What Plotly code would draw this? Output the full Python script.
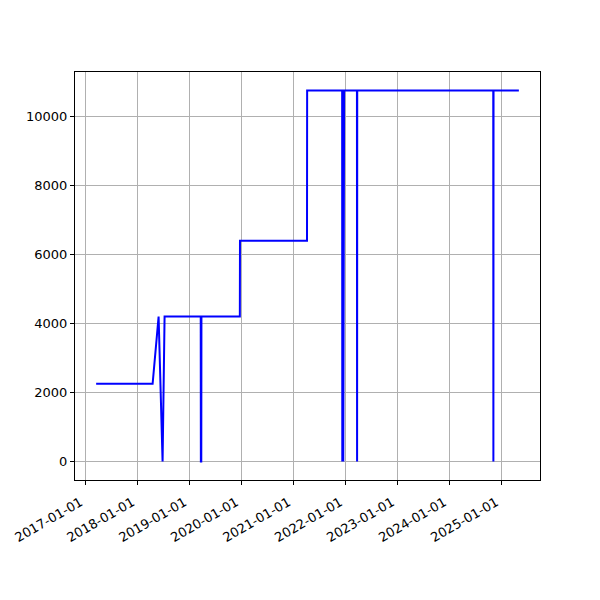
import pandas as pd
import plotly.graph_objects as go

dates = [
    "2017-03-17", "2018-04-18", "2018-05-30", "2018-06-27", "2018-07-11",
    "2019-03-22", "2019-03-23", "2019-03-26", "2019-03-27",
    "2019-12-22", "2019-12-23", "2021-04-07", "2021-04-08",
    "2021-12-10", "2021-12-11", "2021-12-17", "2021-12-18", "2021-12-24",
    "2022-03-24", "2022-03-25", "2022-03-26",
    "2024-11-06", "2024-11-07", "2024-11-08", "2025-05-05",
]
values = [
    2250, 2250, 4200, 0, 4200,
    4200, 0, 0, 4200,
    4200, 6400, 6400, 10750,
    10750, 0, 10750, 0, 10750,
    10750, 0, 10750,
    10750, 0, 10750, 10750,
]
x_ticks = ["2017-01-01", "2018-01-01", "2019-01-01", "2020-01-01", "2021-01-01",
           "2022-01-01", "2023-01-01", "2024-01-01", "2025-01-01"]
y_ticks = [0, 2000, 4000, 6000, 8000, 10000]

d = pd.to_datetime(dates)
span = d.max() - d.min()
xr = [d.min() - 0.05 * span, d.max() + 0.05 * span]
vspan = max(values) - min(values)
yr = [min(values) - 0.05 * vspan, max(values) + 0.05 * vspan]

fig = go.Figure(go.Scatter(x=d, y=values, mode="lines",
                           line=dict(color="#0000ff", width=2)))

axis_common = dict(showline=True, linecolor="black", linewidth=1, mirror=True,
                   showgrid=True, gridcolor="#b0b0b0", gridwidth=1,
                   ticks="outside", ticklen=4, tickcolor="black",
                   tickfont=dict(family="DejaVu Sans", size=13, color="black"),
                   zeroline=False, automargin=False)

fig.update_layout(
    width=600, height=600,
    margin=dict(l=67, r=68, t=64, b=128),
    paper_bgcolor="white", plot_bgcolor="white",
    showlegend=False,
    xaxis=dict(range=xr, tickvals=pd.to_datetime(x_ticks), ticktext=x_ticks,
               tickangle=-30, ticklabelshift=-5, ticklabelstandoff=5,
               **axis_common),
    yaxis=dict(range=yr, tickvals=y_ticks, ticktext=[str(v) for v in y_ticks],
               **axis_common),
)

fig.write_html("out.html")
